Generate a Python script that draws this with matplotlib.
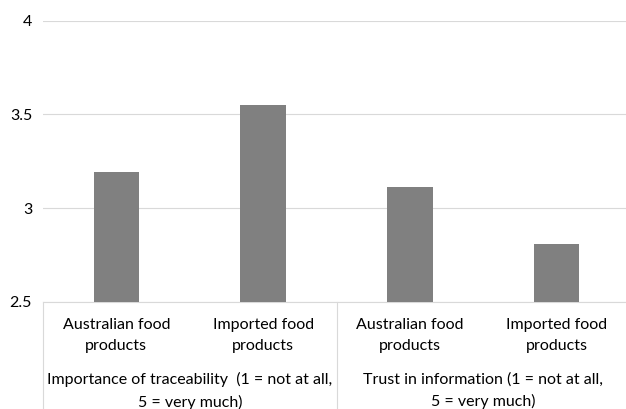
import matplotlib.pyplot as plt
from matplotlib.transforms import blended_transform_factory

plt.rcParams['font.family'] = ['Lato', 'DejaVu Sans']

products = ["Australian food\nproducts", "Imported food\nproducts",
            "Australian food\nproducts", "Imported food\nproducts"]
groups = ["Importance of traceability  (1 = not at all,\n5 = very much)",
          "Trust in information (1 = not at all,\n5 = very much)"]
means = [3.19, 3.55, 3.11, 2.81]
yticks = [2.5, 3, 3.5, 4]

W, H = 626, 409
fig = plt.figure(figsize=(W / 100, H / 100), dpi=100)
ax = fig.add_axes([43 / W, 107.3 / H, 587 / W, 281 / H])

grid_c = '#d9d9d9'
fs = 11.5

x = list(range(len(means)))
ax.bar(x, means, width=0.31, color='#808080', zorder=3)

ax.set_xlim(-0.5, len(means) - 0.5)
ax.set_ylim(yticks[0], yticks[-1])
ax.set_yticks(yticks)
ax.set_yticklabels([f"{t:g}" for t in yticks], fontsize=fs)
ax.tick_params(axis='y', length=0, pad=7.9)
ax.set_xticks([])
ax.yaxis.grid(True, color=grid_c, linewidth=0.8)
ax.set_axisbelow(True)
for side in ['top', 'right', 'left']:
    ax.spines[side].set_visible(False)
ax.spines['bottom'].set_color(grid_c)
ax.spines['bottom'].set_linewidth(0.8)

# two-level category axis drawn below the plot area
tr = blended_transform_factory(ax.transData, fig.transFigure)
bottom = 107.3 / H
for xb in [-0.5, 1.5, 3.5]:
    ax.plot([xb, xb], [0, bottom], transform=tr, color=grid_c,
            linewidth=0.8, clip_on=False)

for xi, lab in zip(x, products):
    ax.text(xi, (H - 335.5) / H, lab, transform=tr, ha='center', va='center',
            fontsize=fs, linespacing=1.6)

for gi, lab in enumerate(groups):
    ax.text(gi * 2 + 0.5, (H - 390.9) / H, lab, transform=tr, ha='center',
            va='center', fontsize=fs, linespacing=1.63)

fig.savefig('out.png', dpi=100)
